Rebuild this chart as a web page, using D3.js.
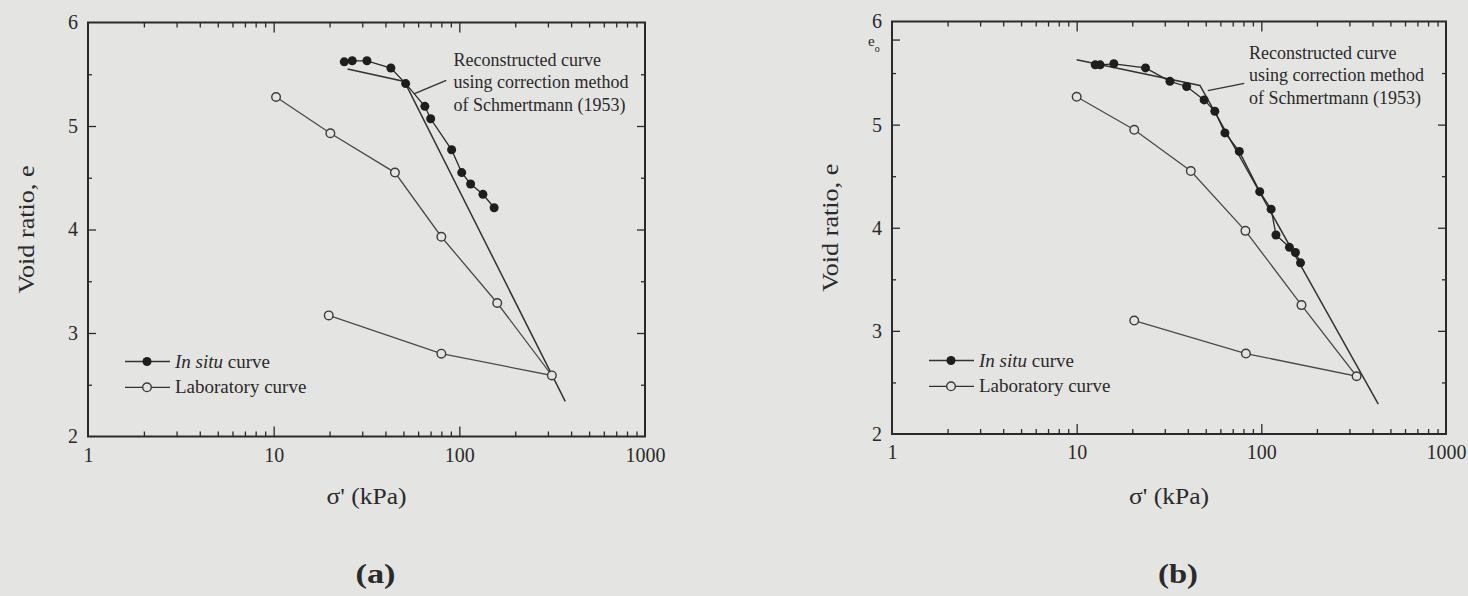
<!DOCTYPE html>
<html>
<head>
<meta charset="utf-8">
<script src="https://cdn.jsdelivr.net/npm/d3@7"></script>
<style>
  html, body { margin: 0; padding: 0; background: #e4e4e2; }
  svg { display: block; }
  text { font-family: "Liberation Serif", "Times New Roman", serif; fill: #2a2a2a; }
</style>
</head>
<body>
<svg id="chart" width="1468" height="596"></svg>
<script>
// ---- axis ticks ----
const sigmaTickValues = [1, 10, 100, 1000];
const sigmaTickLabels = ["1", "10", "100", "1000"];
const eTickValues = [2, 3, 4, 5, 6];
const eTickLabels = ["2", "3", "4", "5", "6"];

// ---- panel (a) ----
const labA_sigma = [10.3, 20.2, 45, 80, 160, 315, 80, 19.8];
const labA_e     = [5.28, 4.93, 4.55, 3.93, 3.29, 2.59, 2.80, 3.17];
const insituA_sigma = [24, 26.5, 31.8, 42.8, 51.4, 65.2, 70.1, 90.9, 103, 115, 134, 154];
const insituA_e     = [5.62, 5.63, 5.63, 5.56, 5.41, 5.19, 5.07, 4.77, 4.55, 4.44, 4.34, 4.21];
const reconA_sigma = [25, 50.6, 372];
const reconA_e     = [5.55, 5.43, 2.34];

// ---- panel (b) ----
const labB_sigma = [10, 20.5, 41.5, 82, 165, 328, 82.5, 20.5];
const labB_e     = [5.27, 4.95, 4.55, 3.97, 3.25, 2.56, 2.78, 3.10];
const insituB_sigma = [12.6, 13.4, 15.9, 23.6, 32, 39.4, 49, 56, 63.5, 76, 98, 113, 120, 142, 153, 163];
const insituB_e     = [5.58, 5.58, 5.59, 5.55, 5.42, 5.37, 5.24, 5.13, 4.92, 4.74, 4.35, 4.18, 3.93, 3.81, 3.76, 3.66];
const reconB_sigma = [10, 46.5, 430];
const reconB_e     = [5.63, 5.38, 2.29];
const e0B = 5.82;

// ---- texts ----
const yTitle = "Void ratio, e";
const xTitle = "\u03c3' (kPa)";
const noteLines = ["Reconstructed curve", "using correction method", "of Schmertmann (1953)"];
const legendInsituItalic = "In situ";
const legendInsituRest = " curve";
const legendLab = "Laboratory curve";

const zip = (s, e) => s.map((v, i) => ({ s: v, e: e[i] }));

const panels = [
  {
    tag: "(a)", left: 88, right: 645, top: 22.5, bottom: 436.5,
    lab: zip(labA_sigma, labA_e), insitu: zip(insituA_sigma, insituA_e), recon: zip(reconA_sigma, reconA_e),
    note: { s: 93, e: 5.64 }, pointer: [{ s: 85, e: 5.44 }, { s: 57, e: 5.31 }], e0: null
  },
  {
    tag: "(b)", left: 892, right: 1446, top: 21.5, bottom: 434,
    lab: zip(labB_sigma, labB_e), insitu: zip(insituB_sigma, insituB_e), recon: zip(reconB_sigma, reconB_e),
    note: { s: 85.7, e: 5.695 }, pointer: [{ s: 80.8, e: 5.40 }, { s: 51.3, e: 5.33 }], e0: e0B
  }
];

const svg = d3.select("#chart");
const ink = "#2a2a2a";
const paper = "#e4e4e2";

function minorDecadeTicks() {
  const out = [];
  [1, 10, 100].forEach(d => { for (let k = 2; k <= 9; k++) out.push(k * d); });
  return out;
}

function drawPanel(p) {
  const x = d3.scaleLog().domain([1, 1000]).range([p.left, p.right]);
  const y = d3.scaleLinear().domain([2, 6]).range([p.bottom, p.top]);
  const g = svg.append("g");

  const tickAxis = (axis, tx, ty) => {
    const a = g.append("g").attr("transform", `translate(${tx},${ty})`).call(axis);
    a.select(".domain").remove();
    a.selectAll("line").attr("stroke", ink).attr("stroke-width", 1.3);
    return a;
  };

  // inward ticks on all four sides
  const minorX = minorDecadeTicks();
  const majorX = [10, 100];
  const minorY = [2.5, 3.5, 4.5, 5.5];
  const majorY = [3, 4, 5];
  tickAxis(d3.axisBottom(x).tickValues(minorX).tickSize(-5).tickFormat(""), 0, p.bottom);
  tickAxis(d3.axisBottom(x).tickValues(majorX).tickSize(-10).tickFormat(""), 0, p.bottom);
  tickAxis(d3.axisTop(x).tickValues(minorX).tickSize(-5).tickFormat(""), 0, p.top);
  tickAxis(d3.axisTop(x).tickValues(majorX).tickSize(-10).tickFormat(""), 0, p.top);
  tickAxis(d3.axisLeft(y).tickValues(minorY).tickSize(-4).tickFormat(""), p.left, 0);
  tickAxis(d3.axisLeft(y).tickValues(majorY).tickSize(-8).tickFormat(""), p.left, 0);
  tickAxis(d3.axisRight(y).tickValues(minorY).tickSize(-4).tickFormat(""), p.right, 0);
  tickAxis(d3.axisRight(y).tickValues(majorY).tickSize(-8).tickFormat(""), p.right, 0);

  // tick labels
  const xl = g.append("g").attr("transform", `translate(0,${p.bottom})`)
    .call(d3.axisBottom(x).tickValues(sigmaTickValues).tickSize(0).tickPadding(11)
      .tickFormat((d, i) => sigmaTickLabels[i]));
  xl.select(".domain").remove();
  xl.selectAll("text").attr("font-size", 20).attr("font-family", "Liberation Serif, serif").attr("fill", ink);

  const yl = g.append("g").attr("transform", `translate(${p.left},0)`)
    .call(d3.axisLeft(y).tickValues(eTickValues).tickSize(0).tickPadding(10)
      .tickFormat((d, i) => eTickLabels[i]));
  yl.select(".domain").remove();
  yl.selectAll("text").attr("font-size", 20).attr("font-family", "Liberation Serif, serif").attr("fill", ink);

  // e0 marker on the void-ratio axis
  if (p.e0 !== null) {
    g.append("line").attr("x1", p.left).attr("x2", p.left + 8)
      .attr("y1", y(p.e0)).attr("y2", y(p.e0)).attr("stroke", ink).attr("stroke-width", 1.3);
    const t = g.append("text").attr("x", p.left - 24).attr("y", y(p.e0) + 6)
      .attr("font-size", 15);
    t.append("tspan").text("e");
    t.append("tspan").attr("font-size", 10).attr("dy", 6).text("o");
  }

  // frame
  g.append("rect").attr("x", p.left).attr("y", p.top)
    .attr("width", p.right - p.left).attr("height", p.bottom - p.top)
    .attr("fill", "none").attr("stroke", ink).attr("stroke-width", 2);

  const line = d3.line().x(d => x(d.s)).y(d => y(d.e));

  // laboratory curve
  g.append("path").datum(p.lab).attr("d", line)
    .attr("fill", "none").attr("stroke", "#4a4a4a").attr("stroke-width", 1.3);
  // reconstructed curve
  g.append("path").datum(p.recon).attr("d", line)
    .attr("fill", "none").attr("stroke", "#333").attr("stroke-width", 1.5);
  // in situ curve
  g.append("path").datum(p.insitu).attr("d", line)
    .attr("fill", "none").attr("stroke", "#2a2a2a").attr("stroke-width", 1.3);

  g.selectAll(".lab").data(p.lab).join("circle")
    .attr("cx", d => x(d.s)).attr("cy", d => y(d.e)).attr("r", 4.3)
    .attr("fill", paper).attr("stroke", "#3a3a3a").attr("stroke-width", 1.4);
  g.selectAll(".ins").data(p.insitu).join("circle")
    .attr("cx", d => x(d.s)).attr("cy", d => y(d.e)).attr("r", 4.5)
    .attr("fill", "#1e1e1e");

  // annotation with pointer
  g.append("line")
    .attr("x1", x(p.pointer[0].s)).attr("y1", y(p.pointer[0].e))
    .attr("x2", x(p.pointer[1].s)).attr("y2", y(p.pointer[1].e))
    .attr("stroke", "#333").attr("stroke-width", 1.4);
  const nx = x(p.note.s), ny = y(p.note.e);
  noteLines.forEach((txt, i) => {
    g.append("text").attr("x", nx).attr("y", ny + 6 + i * 22.5)
      .attr("font-size", 18).text(txt);
  });

  // legend
  const lx = p.left, ly = p.top + 339;
  [0, 1].forEach(i => {
    const yy = ly + i * 25.8;
    g.append("line").attr("x1", lx + 37).attr("x2", lx + 82).attr("y1", yy).attr("y2", yy)
      .attr("stroke", "#333").attr("stroke-width", 1.3);
    if (i === 0) {
      g.append("circle").attr("cx", lx + 59).attr("cy", yy).attr("r", 4.5).attr("fill", "#1e1e1e");
      const t = g.append("text").attr("x", lx + 87).attr("y", yy + 6).attr("font-size", 19);
      t.append("tspan").attr("font-style", "italic").text(legendInsituItalic);
      t.append("tspan").text(legendInsituRest);
    } else {
      g.append("circle").attr("cx", lx + 59).attr("cy", yy).attr("r", 4.3)
        .attr("fill", paper).attr("stroke", "#3a3a3a").attr("stroke-width", 1.4);
      g.append("text").attr("x", lx + 87).attr("y", yy + 6).attr("font-size", 19).text(legendLab);
    }
  });

  // axis titles
  const cx = (p.left + p.right) / 2;
  const cy = (p.top + p.bottom) / 2;
  g.append("text").attr("transform", `translate(${p.left - 54},${cy}) rotate(-90)`)
    .attr("text-anchor", "middle").attr("font-size", 23)
    .attr("textLength", 128).attr("lengthAdjust", "spacingAndGlyphs").text(yTitle);
  g.append("text").attr("x", cx).attr("y", 504).attr("text-anchor", "middle")
    .attr("font-size", 23).attr("textLength", 80).attr("lengthAdjust", "spacingAndGlyphs").text(xTitle);

  // panel tag
  g.append("text").attr("x", cx + 9).attr("y", 583).attr("text-anchor", "middle")
    .attr("font-size", 27).attr("font-weight", "bold")
    .attr("textLength", 40).attr("lengthAdjust", "spacingAndGlyphs").text(p.tag);
}

panels.forEach(drawPanel);
</script>
</body>
</html>
